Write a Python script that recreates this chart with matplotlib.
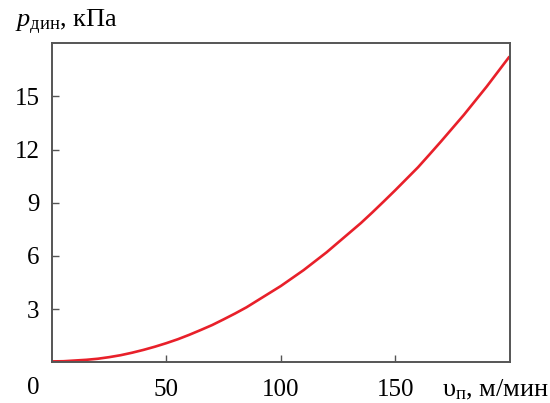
import matplotlib

matplotlib.use("Agg")
import matplotlib.pyplot as plt

# strip speed, m/min, and dynamic pressure, kPa
speed = [0, 5, 10, 15, 20, 25, 30, 35, 40, 45, 50, 55, 60, 65, 70, 75, 80,
         85, 90, 95, 100, 105, 110, 115, 120, 125, 130, 135, 140, 145, 150,
         155, 160, 165, 170, 175, 180, 185, 190, 195, 200]
pressure = [0.05, 0.06, 0.1, 0.14, 0.2, 0.29, 0.4, 0.54, 0.7, 0.88, 1.08,
            1.3, 1.55, 1.82, 2.1, 2.42, 2.75, 3.1, 3.5, 3.9, 4.3, 4.75, 5.2,
            5.7, 6.2, 6.75, 7.3, 7.85, 8.45, 9.07, 9.7, 10.35, 11.0, 11.72,
            12.45, 13.2, 13.95, 14.75, 15.55, 16.4, 17.25]
x_ticks = [50, 100, 150]
y_ticks = [3, 6, 9, 12, 15]

plt.rcParams["font.family"] = ["Liberation Serif", "DejaVu Serif"]
plt.rcParams["mathtext.fontset"] = "custom"
plt.rcParams["mathtext.rm"] = "Liberation Serif"
plt.rcParams["mathtext.it"] = "Liberation Serif:italic"

fig = plt.figure(figsize=(5.5, 4.03), dpi=100)
ax = fig.add_axes([0.0945, 0.101, 0.832, 0.792])

ax.plot(speed, pressure, color="#e8202a", lw=1.9, solid_capstyle="butt")
ax.set_xlim(0, 200)
ax.set_ylim(0, 18)

ax.set_xticks(x_ticks)
ax.set_yticks(y_ticks)
ax.tick_params(direction="in", length=5, width=1, color="#555555",
               labelsize=18, top=False, right=False)
ax.tick_params(axis="x", pad=12)
ax.tick_params(axis="y", pad=9)
for s in ax.spines.values():
    s.set_color("#555555")
    s.set_linewidth(1.4)

fig.text(0.06, 0.037, "0", fontsize=18, ha="center", va="center")
fig.text(0.027, 0.945, r"$p_{\mathrm{дин}}$, кПа", fontsize=19, ha="left", va="center")
fig.text(0.803, 0.017, r"$\mathrm{υ}_{\mathrm{п}}$, м/мин", fontsize=19,
         ha="left", va="baseline")

fig.savefig("out.png", dpi=100)
